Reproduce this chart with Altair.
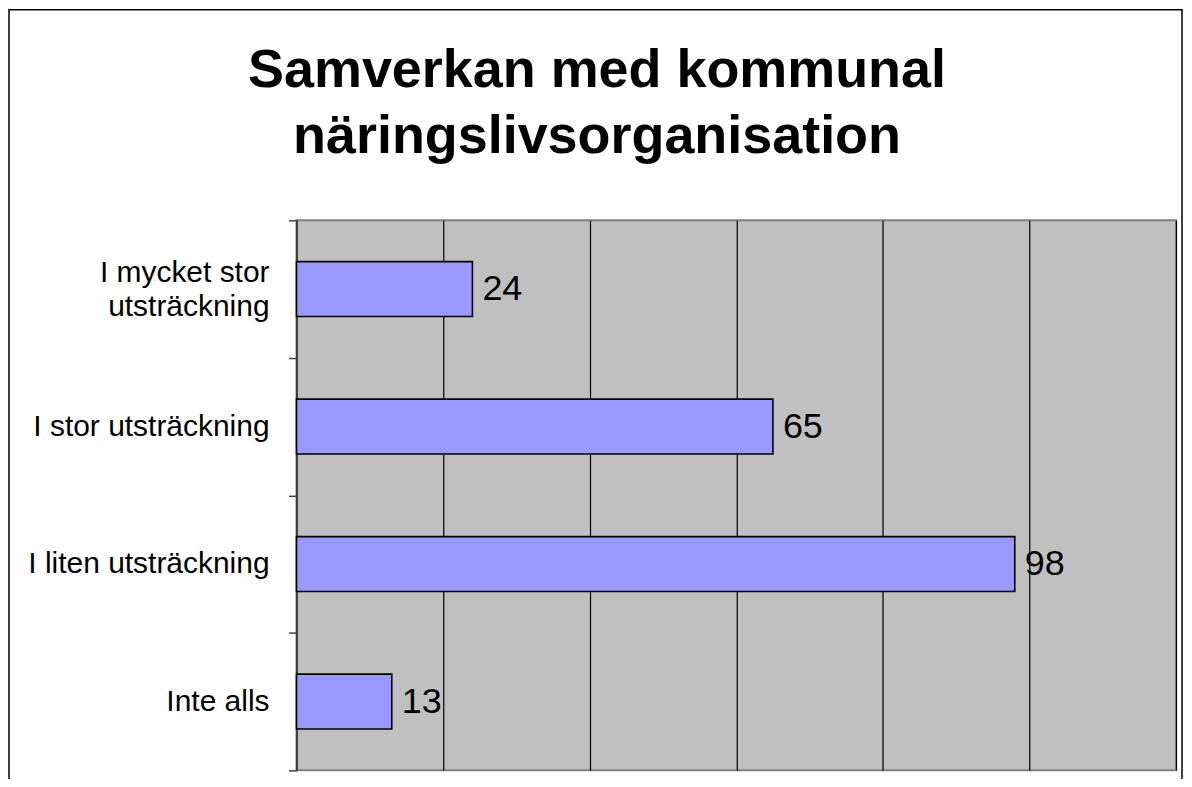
import altair as alt
import pandas as pd

categories = ["I mycket stor|utsträckning", "I stor utsträckning", "I liten utsträckning", "Inte alls"]
values = [24, 65, 98, 13]
grid_values = [0, 20, 40, 60, 80, 100, 120]
title_text = "Samverkan med kommunal\nnäringslivsorganisation"

df = pd.DataFrame({"cat": categories, "val": values})

W, H = 881, 551
FONT = "Liberation Sans"

x_scale = alt.Scale(domain=[0, 120], nice=False, zero=True)
y_scale = alt.Scale(domain=categories, paddingInner=0, paddingOuter=0)

frame = alt.Chart(pd.DataFrame({"a": [0]})).mark_rect(
    fill=None, stroke="#000000", strokeWidth=1.5, clip=False
).encode(
    x=alt.value(-288), x2=alt.value(W + 6), y=alt.value(-211), y2=alt.value(H + 60)
)

title = alt.Chart(pd.DataFrame({"t": [title_text]})).mark_text(
    font=FONT, fontSize=54, fontWeight="bold", color="#000000",
    align="center", baseline="alphabetic", lineBreak="\n", lineHeight=67
).encode(
    x=alt.value(301), y=alt.value(-134), text="t:N"
)

bars = alt.Chart(df).mark_bar(
    color="#9999FF", stroke="#000000", strokeWidth=1.6, size=55
).encode(
    x=alt.X("val:Q", scale=x_scale,
            axis=alt.Axis(values=grid_values, labels=False, ticks=False, domain=False,
                          grid=True, gridColor="#000000", gridWidth=1.2, gridOpacity=1,
                          title=None)),
    y=alt.Y("cat:N", scale=y_scale, sort=categories,
            axis=alt.Axis(title=None, labels=False,
                          tickBand="extent", tickSize=8, tickColor="#404040", tickWidth=1.5,
                          domainColor="#404040", domainWidth=2, grid=False)),
)

cat_single = alt.Chart(df).transform_filter(
    "indexof(datum.cat, '|') < 0"
).mark_text(
    align="right", baseline="middle", font=FONT, fontSize=30, color="#000000",
    lineBreak="|", lineHeight=34, clip=False
).encode(
    x=alt.value(-27),
    y=alt.Y("cat:N", scale=y_scale, sort=categories),
    text="cat:N",
)

cat_multi = alt.Chart(df).transform_filter(
    "indexof(datum.cat, '|') >= 0"
).mark_text(
    align="right", baseline="middle", font=FONT, fontSize=30, color="#000000",
    lineBreak="|", lineHeight=34, dy=-16, clip=False
).encode(
    x=alt.value(-27),
    y=alt.Y("cat:N", scale=y_scale, sort=categories),
    text="cat:N",
)

labels = alt.Chart(df).mark_text(
    align="left", baseline="middle", dx=10, font=FONT, fontSize=36, color="#000000"
).encode(
    x=alt.X("val:Q", scale=x_scale),
    y=alt.Y("cat:N", scale=y_scale, sort=categories),
    text=alt.Text("val:Q"),
)

chart = alt.layer(frame, title, bars, cat_single, cat_multi, labels).properties(
    width=W, height=H,
    autosize=alt.AutoSizeParams(type="none"),
    padding={"left": 289, "top": 212, "right": 8, "bottom": 8},
).configure(
    background="#FFFFFF"
).configure_view(
    fill="#C0C0C0", stroke="#808080", strokeWidth=2
)

chart.save("out.html", embed_options={"renderer": "svg", "actions": False})
